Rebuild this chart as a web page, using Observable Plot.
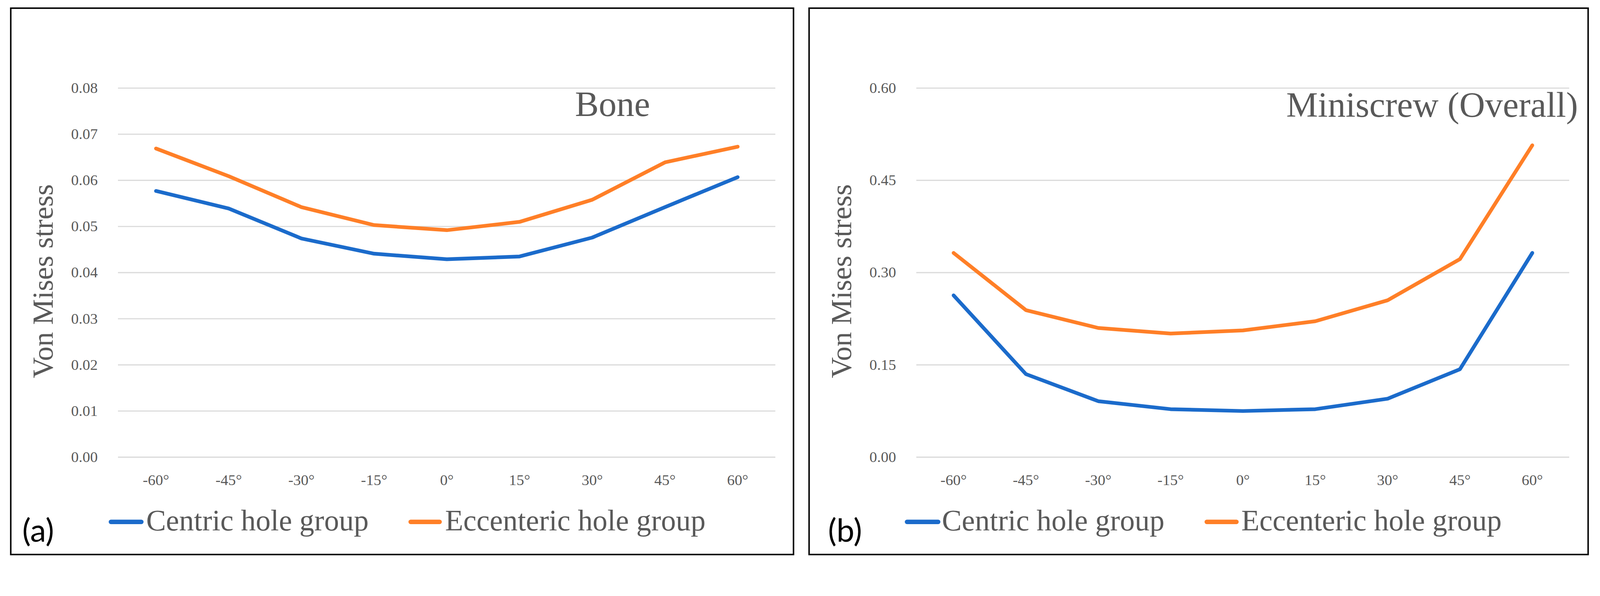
<!DOCTYPE html>
<html>
<head>
<meta charset="utf-8">
<script src="https://cdn.jsdelivr.net/npm/d3@7"></script>
<script src="https://cdn.jsdelivr.net/npm/@observablehq/plot@0.6"></script>
<style>
  html, body { margin: 0; padding: 0; background: #fff; overflow: hidden; }
  #wrap { position: relative; overflow: hidden; background: #fff; }
  #page { position: absolute; left: 0; top: 0; width: 4313px; height: 1526px; overflow: hidden; background: #fff; transform-origin: 0 0; }
  .chart { position: absolute; top: 0; }
  .panel { position: absolute; top: 20px; height: 1477px; border: 4px solid #000; box-sizing: border-box; }
  .swatch { position: absolute; height: 12px; border-radius: 6px; }
  .ltext { position: absolute; font-family: "Liberation Serif", serif; font-size: 80px; line-height: 80px; color: #595959; white-space: nowrap; }
  .tag { position: absolute; font-family: Lato, "Open Sans", sans-serif; font-size: 86px; line-height: 86px; color: #000; white-space: nowrap; }
</style>
</head>
<body>
<div id="wrap"><div id="page"></div></div>
<script>
// ---- data ----
const angles = ["-60°", "-45°", "-30°", "-15°", "0°", "15°", "30°", "45°", "60°"];
const seriesNames = ["Centric hole group", "Eccenteric hole group"];
const seriesColors = ["#1B6BCB", "#FF7F27"];

const boneCentric   = [0.0577, 0.0539, 0.0474, 0.0441, 0.0429, 0.0435, 0.0476, 0.0542, 0.0607];
const boneEccentric = [0.0669, 0.0609, 0.0542, 0.0503, 0.0492, 0.0510, 0.0558, 0.0639, 0.0673];
const boneTicks = [0, 0.01, 0.02, 0.03, 0.04, 0.05, 0.06, 0.07, 0.08];

const screwCentric   = [0.263, 0.135, 0.091, 0.078, 0.075, 0.078, 0.095, 0.143, 0.332];
const screwEccentric = [0.332, 0.239, 0.210, 0.201, 0.206, 0.221, 0.255, 0.322, 0.507];
const screwTicks = [0, 0.15, 0.30, 0.45, 0.60];

const yTitle = "Von Mises stress";

// fit the 4313x1526 design into the actual viewport
const W = 4313, H = 1526;
const vw = window.innerWidth || W;
const scale = vw > 0 ? vw / W : 1;
const wrap = document.getElementById("wrap");
wrap.style.width = (W * scale) + "px";
wrap.style.height = (H * scale) + "px";
const page = document.getElementById("page");
page.style.transform = `scale(${scale})`;

function toRows(c, e) {
  return angles.flatMap((a, i) => [
    {angle: a, value: c[i], series: seriesNames[0]},
    {angle: a, value: e[i], series: seriesNames[1]}
  ]);
}

function makeChart({rows, ticks, title, width, marginLeft, marginRight, titleDx, titleDy}) {
  return Plot.plot({
    width,
    height: 1350,
    marginLeft,
    marginRight,
    marginTop: 237,
    marginBottom: 118,
    style: "background:transparent;max-width:none;overflow:visible;color:#595959;font-family:'Liberation Serif',serif;font-size:40px;",
    x: {type: "point", domain: angles, padding: 0.5},
    y: {domain: [0, ticks[ticks.length - 1]]},
    color: {domain: seriesNames, range: seriesColors},
    marks: [
      Plot.ruleY(ticks, {stroke: "#D9D9D9", strokeWidth: 3}),
      Plot.axisY({ticks, tickFormat: d3.format(".2f"), tickSize: 0, tickPadding: 55, fontSize: 41, label: null}),
      Plot.axisX({tickSize: 0, tickPadding: 46, fontSize: 41, label: null}),
      Plot.line(rows, {x: "angle", y: "value", stroke: "series", strokeWidth: 10, strokeLinejoin: "round", strokeLinecap: "round"}),
      Plot.text([yTitle], {text: d => d, frameAnchor: "left", textAnchor: "middle", lineAnchor: "middle", rotate: -90, dx: -201, dy: 23, fontSize: 78, fill: "#595959"}),
      Plot.text([title], {text: d => d, frameAnchor: "top-right", textAnchor: "end", lineAnchor: "middle", dx: titleDx, dy: titleDy, fontSize: 96, fill: "#595959"})
    ]
  });
}

const left = makeChart({rows: toRows(boneCentric, boneEccentric), ticks: boneTicks, title: "Bone",
  width: 2160, marginLeft: 318, marginRight: 70, titleDx: -338, titleDy: 44});
left.classList.add("chart");
left.style.left = "0px";
page.appendChild(left);

const right = makeChart({rows: toRows(screwCentric, screwEccentric), ticks: screwTicks, title: "Miniscrew (Overall)",
  width: 2153, marginLeft: 310, marginRight: 83, titleDx: 23, titleDy: 47});
right.classList.add("chart");
right.style.left = "2160px";
page.appendChild(right);

// panel frames
function addPanel(x, w) {
  const d = document.createElement("div");
  d.className = "panel";
  d.style.left = x + "px";
  d.style.width = w + "px";
  page.appendChild(d);
}
addPanel(27, 2114);
addPanel(2179, 2104);

// legends
function addLegendItem(sx, sw, tx, color, label) {
  const s = document.createElement("div");
  s.className = "swatch";
  s.style.left = sx + "px";
  s.style.width = sw + "px";
  s.style.top = "1401px";
  s.style.background = color;
  page.appendChild(s);
  const t = document.createElement("div");
  t.className = "ltext";
  t.style.left = tx + "px";
  t.style.top = "1363px";
  t.textContent = label;
  page.appendChild(t);
}
addLegendItem(293, 94, 394, seriesColors[0], seriesNames[0]);
addLegendItem(1101, 90, 1200, seriesColors[1], seriesNames[1]);
addLegendItem(2439, 96, 2539, seriesColors[0], seriesNames[0]);
addLegendItem(3247, 92, 3346, seriesColors[1], seriesNames[1]);

function addTag(x, label) {
  const t = document.createElement("div");
  t.className = "tag";
  t.style.left = x + "px";
  t.style.top = "1384px";
  t.textContent = label;
  page.appendChild(t);
}
addTag(60, "(a)");
addTag(2232, "(b)");
</script>
</body>
</html>
